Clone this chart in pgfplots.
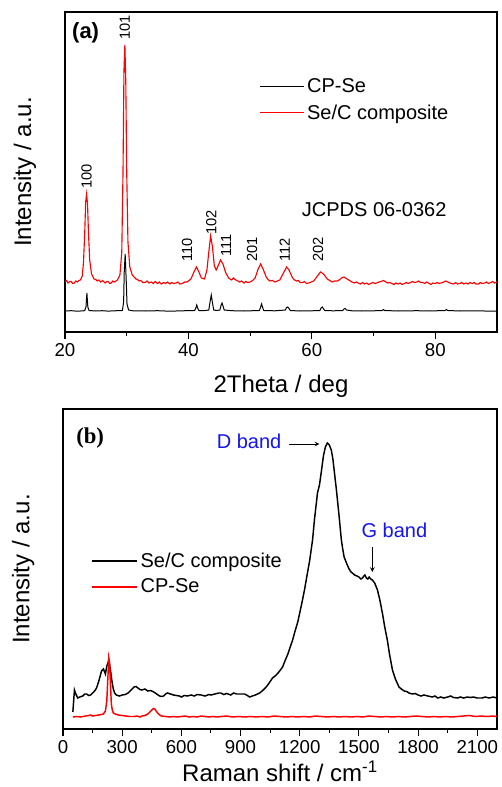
\documentclass[border=0pt]{standalone}
\usepackage{pgfplots}
\pgfplotsset{compat=1.18}
\usepackage{fontspec}
\setmainfont{Liberation Sans}
\newfontfamily\timesfont{Liberation Serif}
\definecolor{myred}{RGB}{255,0,0}
\definecolor{myblue}{RGB}{20,20,240}
\begin{document}
\begin{tikzpicture}
\useasboundingbox (0pt,0pt) rectangle (375.75pt,-590.25pt);
\pgfplotsset{
  every axis/.append style={
    scale only axis,
    axis line style={line width=1pt},
    tick style={line width=0.8pt,black},
    tick align=outside,
    major tick length=5pt,
    minor tick length=2.8pt,
    /pgf/number format/assume math mode=true,
    /pgf/number format/1000 sep={},
    ticklabel style={font=\fontsize{14}{16}\selectfont},
    label style={font=\fontsize{18}{20}\selectfont},
  }
}
% ---------------- panel (a) ----------------
\begin{axis}[
  at={(48.75pt,-249pt)}, anchor=south west,
  width=324pt, height=240pt,
  xmin=20, xmax=90, ymin=0, ymax=320,
  xtick={20,40,60,80}, minor xtick={30,50,70},
  ytick=\empty,
  minor ytick={19,47.3,75.6,103.9,132.2,160.5,188.8,217.1,245.4,273.7,302},
  ytick pos=both, xtick pos=bottom,
  xlabel={2Theta / deg}, ylabel={Intensity / a.u.},
  xlabel style={at={(axis description cs:0.5,-0.19)}, anchor=base},
  ylabel style={at={(axis description cs:-0.0926,0.5)}, anchor=center},
  legend cell align=left,
  legend style={at={(0.44,0.809)}, anchor=north west, draw=none, fill=none,
    font=\fontsize{15}{17}\selectfont, row sep=3.5pt},
  legend image code/.code={\draw[#1] (0pt,0pt) -- (33pt,0pt);},
]
\addplot[black, line width=0.75pt] coordinates {
(20,21)(21,21.3)(22,20.8)(23,21.2)(23.2,21.5)(23.4,25)(23.55,39)(23.7,25)(23.9,21.5)(25,21)(26,21.3)(27,20.9)(28,21.2)(29.3,21.5)(29.5,30)(29.6,60)(29.75,78)(29.9,55)(30.05,28)(30.3,22)(31,21.2)(33,21)(35,21.3)(37,20.8)(39,21.2)
(41.0,21.5)(41.2,24)(41.35,27)(41.5,24)(41.7,21.5)(42.5,21.3)(43.3,22)(43.5,30)(43.7,37)(43.9,29)(44.1,22)(44.6,21.5)(45.1,22)(45.3,27)(45.45,29)(45.6,26)(45.8,22)(47,21.3)(49,21)(51.5,21.5)(51.7,25)(51.85,28)(52.0,25)(52.2,21.5)(54,21.2)
(55.7,22)(55.9,24.5)(56.1,25)(56.3,23.5)(56.5,21.5)(58,21)(60,21.2)(61.3,21.5)(61.5,24)(61.7,25)(61.9,23)(62.1,21.5)(63.5,21.2)(65,21.5)(65.2,23)(65.4,23.5)(65.6,22)(66.5,21.2)(68,21)(70,21.2)(71.4,21.5)(71.6,22.5)(71.8,21.5)(74,21)(77,21.3)(79,21)
(81.6,21.5)(81.8,22.5)(82,21.5)(84,21)(86,21.2)(88,21)(90,21)};
\addlegendentry{CP-Se}
\addplot[myred, line width=0.85pt] coordinates {
(20,50)(20.25,51.5)(20.5,49)(20.75,50.5)(21,50.5)(21.25,48.5)(21.5,49)(21.75,51)(22,50)(22.25,51.5)(22.5,52)(22.8,56)(23.0,70)(23.2,100)(23.35,130)(23.5,138)(23.65,128)(23.8,100)(24.0,72)(24.3,58)(24.7,53)(25.0,52.5)(25.2,51)(25.5,52)(25.8,50)(26.1,51.5)(26.5,49)(26.8,50.5)(27,50.5)(27.25,48.5)(27.5,49)(27.75,51)(28,50)(28.25,51)(28.5,52)(28.9,57)(29.2,80)(29.4,160)(29.55,260)(29.7,287)(29.85,250)(30.0,160)(30.2,90)(30.5,65)(30.9,57)(31.2,55)(31.5,53)(31.75,52.5)(32,51)(32.3,51.5)(32.6,49.5)(33,49.5)(33.3,51)(33.6,49)(34,50)(34.3,48.5)(34.6,50.5)(35,48.5)(35.3,50)(35.6,48)(36,49.5)(36.3,48.5)(36.6,50)(37,48)(37.3,49.5)(37.6,48.5)(38,49)(38.3,50)(38.6,48)(39,48.5)(39.4,50)(39.8,50)(40.1,51.5)(40.4,53)(40.9,60)(41.3,65)(41.7,60)(42.1,54)(42.6,53)(43.0,62)(43.3,80)(43.6,96)(43.9,85)(44.2,66)(44.5,62)(44.8,66)(45.2,72)(45.6,68)(46.0,60)(46.5,54)(47.0,52)(47.3,54)(47.5,53)(47.8,51.5)(48,51)(48.3,50)(48.6,51)(49,49)(49.3,50.5)(49.6,49.5)(50,50)(50.4,51.5)(50.8,54)(51.3,63)(51.7,68)(52.1,63)(52.6,55)(52.9,52.5)(53.2,51)(53.6,51.5)(54,50)(54.4,51)(54.8,52)(55.4,59)(55.9,65)(56.3,62)(56.8,55)(57.1,52.5)(57.5,51)(57.8,51.5)(58.1,49.5)(58.5,49.5)(58.8,50.5)(59.1,48.5)(59.5,49)(59.9,50)(60.3,51)(60.9,56)(61.4,60)(61.9,58)(62.5,53)(62.9,51.5)(63.3,50)(63.7,51)(64.2,51)(64.8,54)(65.2,55)(65.7,53)(66.1,51.5)(66.5,50)(66.9,49)(67.2,50)(67.5,49)(67.9,48)(68.2,49.5)(68.5,48)(68.9,49)(69.2,47.5)(69.5,48.5)(69.9,49.5)(70.2,48.5)(70.5,49)(70.9,50)(71.2,50.5)(71.6,51.5)(72.0,50)(72.3,49)(72.6,49.5)(73,48.5)(73.3,47.5)(73.6,49)(74,48)(74.3,49)(74.6,47.5)(75,48.5)(75.3,49.5)(75.6,48.5)(76,49.5)(76.3,50.5)(76.6,49.5)(77,50)(77.3,51)(77.6,49.5)(78,49.5)(78.3,48.5)(78.6,50)(79,48.5)(79.3,47.5)(79.6,49)(80,48.5)(80.3,49.5)(80.6,48.5)(81.2,49.5)(81.7,51)(82.2,49.5)(82.6,48.5)(83,48)(83.3,49.5)(83.6,48)(84,48.5)(84.3,49.5)(84.6,48)(85,49)(85.3,48)(85.6,49.5)(86,48.5)(86.3,49.5)(86.6,48)(87,48)(87.3,49.5)(87.6,48.5)(88,49)(88.3,50)(88.6,48.5)(89,49.5)(89.3,50.5)(89.6,49)(90,50)};
\addlegendentry{Se/C composite}
\node[anchor=west, inner sep=0pt, font=\fontsize{16.5}{18}\selectfont\bfseries] at (rel axis cs:0.016,0.935) {(a)};
\node[font=\fontsize{15}{17}\selectfont] at (axis cs:70.1,122) {JCPDS 06-0362};
\begin{scope}[every node/.style={rotate=90, anchor=west, font=\fontsize{11}{12}\selectfont, inner sep=0pt}]
\node at (axis cs:23.5,143) {100};
\node at (axis cs:29.7,292) {101};
\node at (axis cs:39.8,70) {110};
\node at (axis cs:43.7,97) {102};
\node at (axis cs:46.1,75) {111};
\node at (axis cs:50.3,70) {201};
\node at (axis cs:55.6,70) {112};
\node at (axis cs:61.0,70) {202};
\end{scope}
\end{axis}
% ---------------- panel (b) ----------------
\begin{axis}[
  at={(47.25pt,-546.75pt)}, anchor=south west,
  width=325.5pt, height=240pt,
  xmin=0, xmax=2200, ymin=0, ymax=320,
  xtick={0,300,...,2100}, minor xtick={150,450,...,2250},
  ytick=\empty,
  minor ytick={10.8,32.9,55,77.1,99.2,121.3,143.4,165.5,187.6,209.7,231.8,253.9,276,298.1},
  ytick pos=both, xtick pos=bottom,
  xlabel={Raman shift / cm\textsuperscript{-1}}, ylabel={Intensity / a.u.},
  xlabel style={at={(axis description cs:0.5,-0.163)}, anchor=base},
  ylabel style={at={(axis description cs:-0.092,0.5)}, anchor=center},
  legend cell align=left,
  legend style={at={(0.055,0.569)}, anchor=north west, draw=none, fill=none,
    font=\fontsize{15}{17}\selectfont, row sep=3.5pt},
  legend image code/.code={\draw[#1] (0pt,0pt) -- (34pt,0pt);},
]
\addplot[black, line width=1.1pt] coordinates {
(50,17)(58,39)(65,35)(75,31)(85,32)(100,33)(110,35)(120,35)(130,33.5)(140,34)(150,36)(160,38)(170,41)(180,47)(190,54)(195,58)(205,60)(215,55)(222,63)(228,66)(232,69)(240,60)(248,48)(255,40)(262,36)(270,34)(285,33)(300,34)(315,34.5)(330,36)(345,39)(360,42)(370,42.5)(380,41)(390,39.5)(400,39)(415,40)(430,38)(445,38.5)(460,37)(475,35)(490,33)(500,32.5)(510,33)(520,35)(530,36)(545,35)(560,34)(575,33.5)(590,33)(600,32)(615,33.5)(630,33)(650,34)(665,33)(680,34.5)(700,34)(720,33)(740,34.5)(750,34)(770,35)(790,36)(800,36)(815,34.5)(830,35.5)(850,34)(865,36)(880,35)(900,35)(920,35)(935,33.5)(946,32)(960,33)(975,34)(997,36)(1015,39)(1030,42)(1045,46)(1062,51)(1075,53)(1090,56)(1100,58.5)(1113,62)(1125,68)(1140,75)(1150,81)(1164,89)(1175,97)(1190,107)(1200,116)(1214,129)(1225,140)(1240,157)(1250,168)(1265,189)(1275,210)(1290,236)(1300,244)(1310,258)(1320,273)(1330,282)(1340,286)(1350,284)(1360,279)(1368,270)(1375,258)(1386,239)(1400,212)(1411,189)(1418,180)(1425,172)(1437,166)(1450,160)(1460,157)(1467,156)(1478,154)(1490,153)(1500,152)(1510,150)(1518,151)(1525,153)(1530,154)(1538,151)(1545,150)(1552,152)(1560,150)(1568,149)(1580,146)(1594,139)(1605,130)(1619,116)(1630,103)(1644,89)(1655,75)(1670,59)(1685,50)(1703,42)(1715,40)(1730,38)(1742,37.5)(1754,36)(1770,35)(1785,35.5)(1800,34)(1815,33)(1830,34)(1850,33)(1872,32)(1885,33)(1900,31)(1915,32)(1930,31)(1950,32)(1965,33)(1980,31.5)(2000,31)(2015,32)(2030,31)(2050,32)(2065,31.5)(2080,32)(2100,31)(2125,31)(2140,32)(2160,31)(2180,32)(2200,31)};
\addlegendentry{Se/C composite}
\addplot[myred, line width=1.1pt] coordinates {
(50,12)(70,12.5)(90,12)(100,12.5)(115,13)(130,13.5)(140,14)(150,13)(165,13.5)(180,14)(195,14.5)(205,15)(215,18)(222,28)(226,45)(232,71)(236,66)(240,48)(245,25)(250,19)(255,16)(265,15)(280,14)(300,13.5)(320,13)(340,12.5)(360,12.5)(375,13)(390,12)(400,13)(415,13.5)(430,15)(440,17)(450,19)(458,20.5)(465,20)(472,18)(480,16)(490,14)(500,13)(520,12.5)(540,12)(560,12.5)(580,12)(600,12.5)(620,13)(640,12)(660,12.5)(680,12)(700,13)(720,12.5)(740,12)(760,12.5)(780,12)(800,12.5)(830,13)(860,12)(890,12.5)(920,12)(950,12.5)(980,12)(1010,12.5)(1040,12)(1070,13)(1100,12.5)(1130,12)(1160,12.5)(1190,12)(1220,12.5)(1250,12)(1280,13)(1310,12.5)(1340,12)(1370,12.5)(1400,12)(1430,12.5)(1460,12)(1490,12.5)(1520,12)(1550,13)(1580,12.5)(1610,12)(1640,12.5)(1670,12)(1700,12.5)(1730,12)(1760,12.5)(1790,13)(1820,12.5)(1850,12)(1880,12.5)(1910,12)(1940,12.5)(1970,12)(2000,12.5)(2030,13)(2060,13.5)(2090,12.5)(2120,13)(2150,12.5)(2180,13)(2200,12.5)};
\addlegendentry{CP-Se}
\node[anchor=west, inner sep=0pt, font=\fontsize{17}{19}\selectfont\timesfont\bfseries] at (rel axis cs:0.03,0.909) {(b)};
\node[anchor=east, inner sep=0pt, text=myblue, font=\fontsize{15}{17}\selectfont] at (axis cs:1108,288) {D band};
\draw[-stealth, line width=0.6pt] (axis cs:1148,285) -- (axis cs:1300,285);
\node[text=myblue, inner sep=0pt, font=\fontsize{15}{17}\selectfont] at (axis cs:1680,199) {G band};
\draw[-stealth, line width=0.6pt] (axis cs:1568,182) -- (axis cs:1568,157);
\end{axis}
\end{tikzpicture}
\end{document}
